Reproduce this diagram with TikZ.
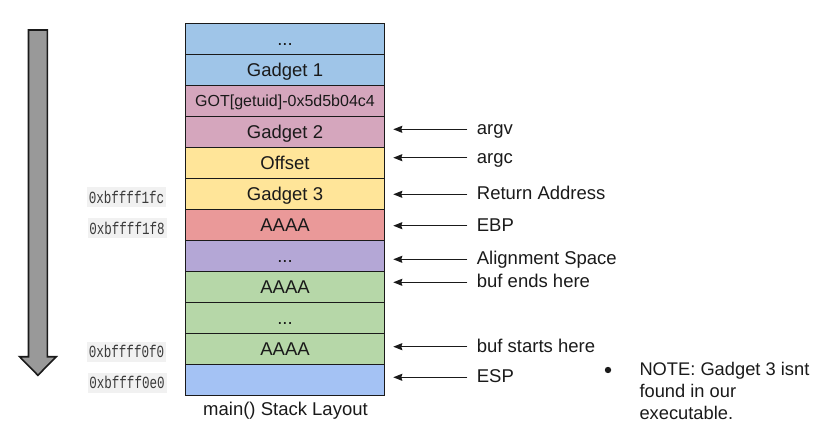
\documentclass[tikz,border=0pt]{standalone}
\usepackage{fontspec}
\setmainfont{Liberation Sans}
\newfontfamily\addrfont[FakeStretch=0.74]{Liberation Mono}
\usetikzlibrary{arrows.meta}
\definecolor{cblue}{HTML}{9FC5E8}
\definecolor{cpink}{HTML}{D5A6BD}
\definecolor{cyel}{HTML}{FFE599}
\definecolor{cred}{HTML}{EA9999}
\definecolor{cpurp}{HTML}{B4A7D6}
\definecolor{cgreen}{HTML}{B6D7A8}
\definecolor{cbot}{HTML}{A4C2F4}
\definecolor{addrbg}{HTML}{F1F1F1}
\definecolor{addrtx}{HTML}{3A3A3A}
\definecolor{arrgray}{HTML}{999999}
\definecolor{ink}{HTML}{1A1A1A}
\begin{document}
\begin{tikzpicture}[x=1pt,y=-1pt,
  cell/.style={draw=ink, line width=1.4pt, minimum width=198.6pt, minimum height=31pt,
    inner sep=0pt, text height=13pt, text depth=0pt, text=ink,
    font=\fontsize{18.5}{20}\selectfont},
  addr/.style={fill=addrbg, minimum width=79pt, minimum height=20pt, inner sep=0pt,
    text=addrtx, font=\addrfont\fontsize{17}{18}\selectfont},
  lbl/.style={anchor=base west, inner sep=0pt, text=ink, font=\fontsize{18.5}{20}\selectfont},
  ptr/.style={draw=ink, line width=1.3pt, -{Stealth[length=9pt,width=7pt,inset=1pt]}},
  notetxt/.style={anchor=base west, inner sep=0pt, text=ink, font=\fontsize{18.3}{20}\selectfont}
]
\useasboundingbox (0,0) rectangle (816,430);

% big gray downward arrow
\draw[fill=arrgray, draw=ink, line width=1.6pt, line join=miter]
  (28.5,30) -- (47.3,30) -- (47.3,356.7) -- (56.2,356.7) -- (37.9,375.3)
  -- (19.6,356.7) -- (28.5,356.7) -- cycle;

% stack cells
\node[cell, fill=cblue]  (r1)  at (285,38.8)  {...};
\node[cell, fill=cblue]  (r2)  at (285,69.8)  {Gadget 1};
\node[cell, fill=cpink, text height=11.5pt, font=\fontsize{16}{18}\selectfont] (r3) at (285,100.8) {GOT[getuid]-0x5d5b04c4};
\node[cell, fill=cpink]  (r4)  at (285,131.8) {Gadget 2};
\node[cell, fill=cyel]   (r5)  at (285,162.8) {Offset};
\node[cell, fill=cyel]   (r6)  at (285,193.8) {Gadget 3};
\node[cell, fill=cred]   (r7)  at (285,224.8) {AAAA};
\node[cell, fill=cpurp]  (r8)  at (285,255.8) {...};
\node[cell, fill=cgreen] (r9)  at (285,286.8) {AAAA};
\node[cell, fill=cgreen] (r10) at (285,317.8) {...};
\node[cell, fill=cgreen] (r11) at (285,348.8) {AAAA};
\node[cell, fill=cbot]   (r12) at (285,379.8) {};

\node[anchor=base, inner sep=0pt, text=ink, font=\fontsize{18.5}{20}\selectfont] (cap) at (285.5,415) {main() Stack Layout};

% address labels
\node[addr] (a1) at (126.5,197)   {0xbffff1fc};
\node[addr] (a2) at (127,228.5)   {0xbffff1f8};
\node[addr] (a3) at (126.5,351.5) {0xbffff0f0};
\node[addr] (a4) at (127,382.5)   {0xbffff0e0};

% pointer arrows and labels
\foreach \n/\yy/\t in {1/129.3/argv, 2/157.7/argc, 3/194.3/Return Address, 4/225.7/EBP,
  5/259.3/Alignment Space, 6/282.3/buf ends here, 7/346.7/buf starts here, 8/377.3/ESP}{
  \coordinate (s\n) at (467.3,\yy);
  \coordinate (e\n) at (393.3,\yy);
  \draw[ptr] (s\n) -- (e\n);
  \node[lbl] (l\n) at (476.7,\yy+5.5) {\t};
}

% note
\fill[ink] (608,370) circle (3.2pt);
\node[notetxt] (n1) at (639.3,375) {NOTE: Gadget 3 isnt};
\node[notetxt] (n2) at (639.3,397) {found in our};
\node[notetxt] (n3) at (639.3,419) {executable.};
\end{tikzpicture}
\end{document}
